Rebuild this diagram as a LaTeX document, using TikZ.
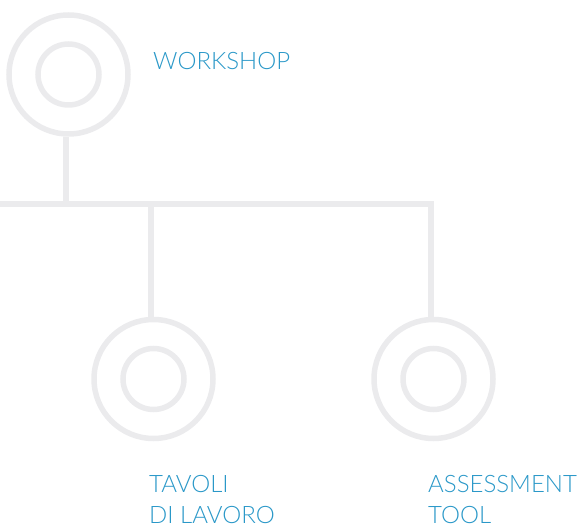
\documentclass[tikz,border=0pt]{standalone}
\usepackage{fontspec}
\setmainfont{Lato}[UprightFont=* Light]
\definecolor{ringgray}{RGB}{235,235,237}
\definecolor{labelblue}{RGB}{42,152,200}
\tikzset{
  outerring/.style={circle, draw=ringgray, line width=5.5pt, minimum size=119pt, inner sep=0pt},
  innerring/.style={circle, draw=ringgray, line width=5.5pt, minimum size=61pt, inner sep=0pt},
  link/.style={draw=ringgray, line width=5.5pt},
  lbl/.style={text=labelblue, font=\fontsize{24pt}{30.6pt}\selectfont, inner sep=0pt, align=left, anchor=base west}
}
\begin{document}
\begin{tikzpicture}[x=1pt,y=-1pt]
\useasboundingbox (0,0) rectangle (578,526);
% top
\node[outerring] (wo) at (68.5,74.5) {};
\node[innerring] (wi) at (68.5,74.5) {};
% bottom left
\node[outerring] (to) at (153.5,379) {};
\node[innerring] (ti) at (153.5,379) {};
% bottom right
\node[outerring] (ao) at (433.5,379) {};
\node[innerring] (ai) at (433.5,379) {};
\coordinate (left) at (-5,204);
\coordinate (j1) at (66,204);
\coordinate (j2) at (151,204);
\coordinate (j3) at (431,204);
\draw[link] (wo.south -| j1) -- (j1);
\draw[link] (left) -- (j3) -- (ao.north -| j3);
\draw[link] (j2) -- (to.north -| j2);
\node[lbl] (lw) at (153,69.3) {WORKSHOP};
\node[lbl] (lt) at (149,523.3) {TAVOLI\\DI LAVORO};
\node[lbl] (la) at (428,523.3) {ASSESSMENT\\TOOL};
\end{tikzpicture}
\end{document}
